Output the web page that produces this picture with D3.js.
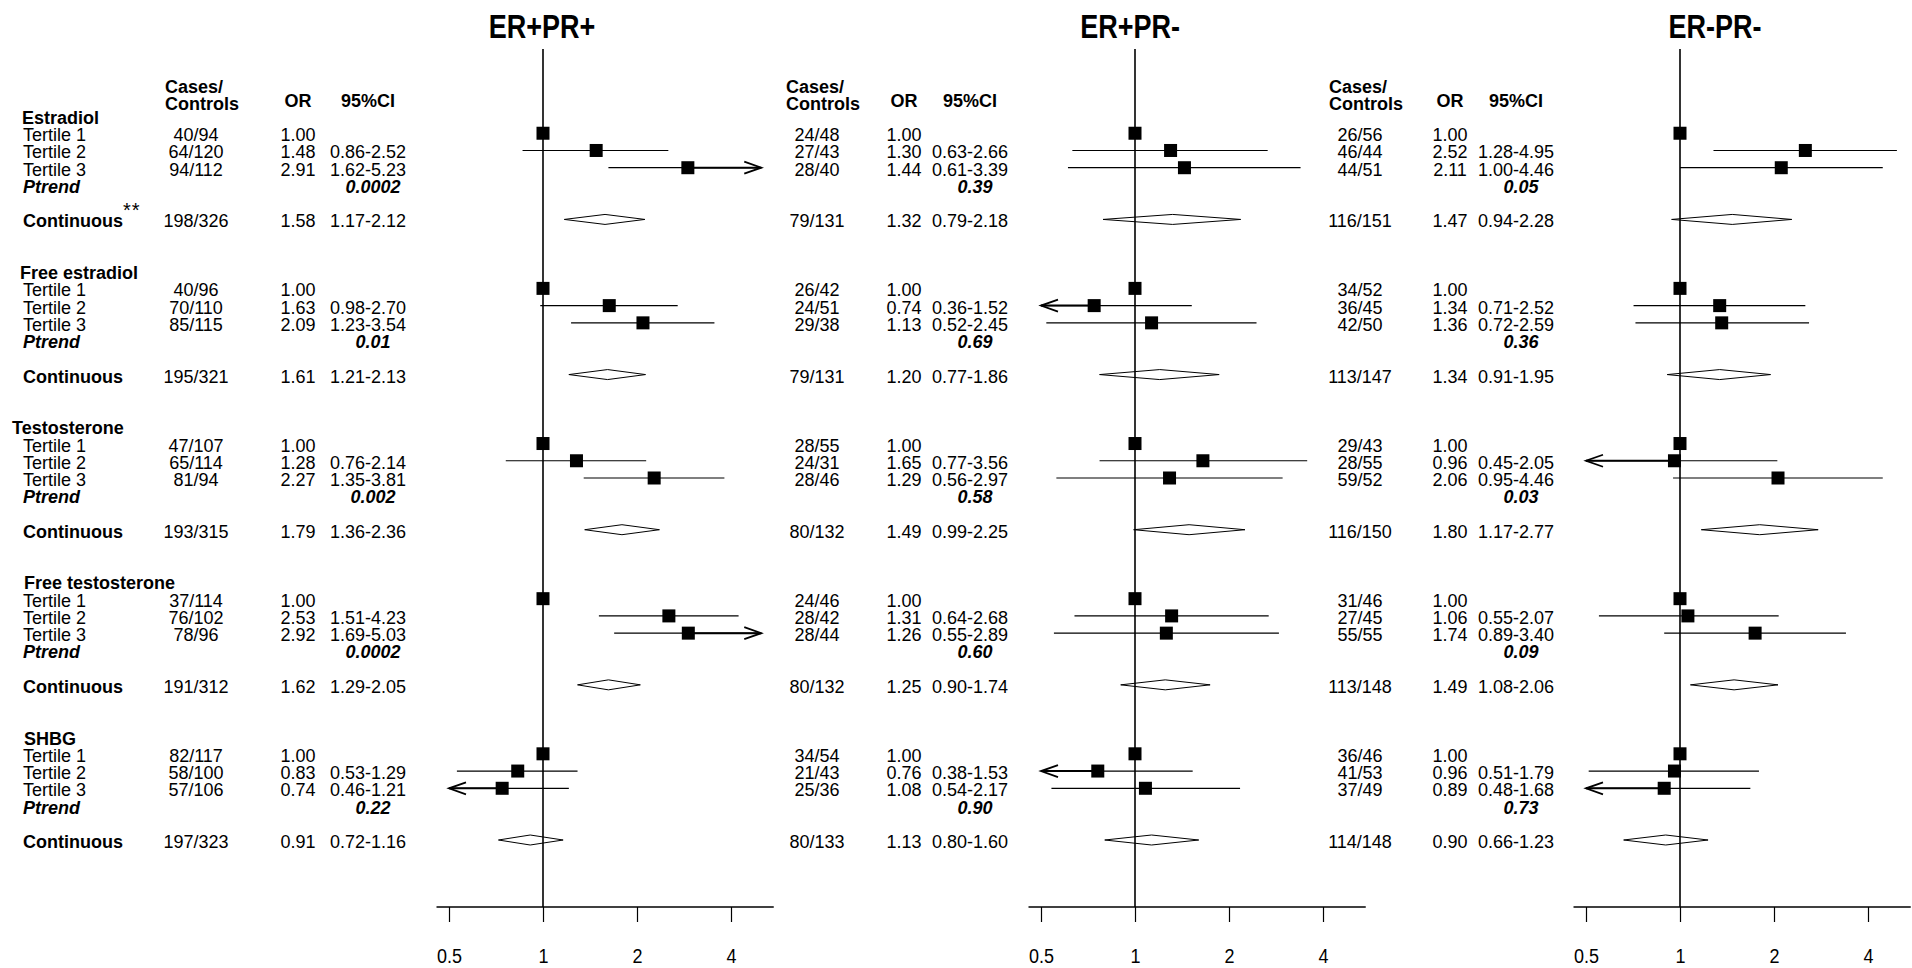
<!DOCTYPE html>
<html><head><meta charset="utf-8">
<script src="https://cdn.jsdelivr.net/npm/d3@7"></script>
<style>
body{margin:0;background:#fff}
text{font-family:"Liberation Sans",Arial,Helvetica,sans-serif;fill:#000}
</style>
</head><body>
<svg id="chart" width="1912" height="968"></svg>
<script>
// ---------------- DATA ----------------
const hormones = ["Estradiol", "Free estradiol", "Testosterone", "Free testosterone", "SHBG"];
const subtypes = ["ER+PR+", "ER+PR-", "ER-PR-"];
const tertileLabels = ["Tertile 1", "Tertile 2", "Tertile 3"];
const ptrendLabel = "Ptrend";
const continuousLabel = "Continuous";
const tickValues = [0.5, 1, 2, 4];
const tickLabels = ["0.5", "1", "2", "4"];

// each hormone: [Tertile 1, Tertile 2, Tertile 3, Continuous]
const casesERpPRp = [["40/94","64/120","94/112","198/326"],["40/96","70/110","85/115","195/321"],["47/107","65/114","81/94","193/315"],["37/114","76/102","78/96","191/312"],["82/117","58/100","57/106","197/323"]];
const orERpPRp    = [[1.00,1.48,2.91,1.58],[1.00,1.63,2.09,1.61],[1.00,1.28,2.27,1.79],[1.00,2.53,2.92,1.62],[1.00,0.83,0.74,0.91]];
const loERpPRp    = [[null,0.86,1.62,1.17],[null,0.98,1.23,1.21],[null,0.76,1.35,1.36],[null,1.51,1.69,1.29],[null,0.53,0.46,0.72]];
const hiERpPRp    = [[null,2.52,5.23,2.12],[null,2.70,3.54,2.13],[null,2.14,3.81,2.36],[null,4.23,5.03,2.05],[null,1.29,1.21,1.16]];
const ptrendERpPRp = ["0.0002","0.01","0.002","0.0002","0.22"];

const casesERpPRn = [["24/48","27/43","28/40","79/131"],["26/42","24/51","29/38","79/131"],["28/55","24/31","28/46","80/132"],["24/46","28/42","28/44","80/132"],["34/54","21/43","25/36","80/133"]];
const orERpPRn    = [[1.00,1.30,1.44,1.32],[1.00,0.74,1.13,1.20],[1.00,1.65,1.29,1.49],[1.00,1.31,1.26,1.25],[1.00,0.76,1.08,1.13]];
const loERpPRn    = [[null,0.63,0.61,0.79],[null,0.36,0.52,0.77],[null,0.77,0.56,0.99],[null,0.64,0.55,0.90],[null,0.38,0.54,0.80]];
const hiERpPRn    = [[null,2.66,3.39,2.18],[null,1.52,2.45,1.86],[null,3.56,2.97,2.25],[null,2.68,2.89,1.74],[null,1.53,2.17,1.60]];
const ptrendERpPRn = ["0.39","0.69","0.58","0.60","0.90"];

const casesERnPRn = [["26/56","46/44","44/51","116/151"],["34/52","36/45","42/50","113/147"],["29/43","28/55","59/52","116/150"],["31/46","27/45","55/55","113/148"],["36/46","41/53","37/49","114/148"]];
const orERnPRn    = [[1.00,2.52,2.11,1.47],[1.00,1.34,1.36,1.34],[1.00,0.96,2.06,1.80],[1.00,1.06,1.74,1.49],[1.00,0.96,0.89,0.90]];
const loERnPRn    = [[null,1.28,1.00,0.94],[null,0.71,0.72,0.91],[null,0.45,0.95,1.17],[null,0.55,0.89,1.08],[null,0.51,0.48,0.66]];
const hiERnPRn    = [[null,4.95,4.46,2.28],[null,2.52,2.59,1.95],[null,2.05,4.46,2.77],[null,2.07,3.40,2.06],[null,1.79,1.68,1.23]];
const ptrendERnPRn = ["0.05","0.36","0.03","0.09","0.73"];

const clipRange = [0.5, 5];

// ---------------- LAYOUT ----------------
const panels = [
  {title: subtypes[0], cases: casesERpPRp, or: orERpPRp, lo: loERpPRp, hi: hiERpPRp, p: ptrendERpPRp},
  {title: subtypes[1], cases: casesERpPRn, or: orERpPRn, lo: loERpPRn, hi: hiERpPRn, p: ptrendERpPRn},
  {title: subtypes[2], cases: casesERnPRn, or: orERnPRn, lo: loERnPRn, hi: hiERnPRn, p: ptrendERnPRn}
];
const layout = {
  titleX: [542, 1130, 1715],
  refX: [543, 1135, 1680],
  casesX: [196, 817, 1360],
  orX: [298, 904, 1450],
  ciX: [368, 970, 1516],
  headerIndent: [22, 20, 12, 24, 24],
  labelX: 23,
  pxPerDoubling: 94,
  refTop: 49,
  axisY: 907
};
const FS = 18;
const STRETCH = 1.0;
const fmt2 = d3.format(".2f");

const svg = d3.select("#chart");
const rowY = d3.scaleLinear().domain([0, 42]).range([117, 841]);

function txt(g, x, y, s, opts = {}) {
  return g.append("text")
    .attr("transform", `translate(${x},${y}) scale(1,${opts.stretch || STRETCH})`)
    .attr("font-size", opts.size || FS)
    .attr("font-weight", opts.bold ? "bold" : "normal")
    .attr("font-style", opts.italic ? "italic" : "normal")
    .attr("text-anchor", opts.anchor || "start")
    .text(s);
}
const BL = 7; // baseline offset from row centre

// left label column
const lab = svg.append("g");
hormones.forEach((h, s) => {
  const base = s * 9;
  txt(lab, layout.headerIndent[s], rowY(base) + BL, h, {bold: true});
  tertileLabels.forEach((t, i) => txt(lab, layout.labelX, rowY(base + 1 + i) + BL, t));
  txt(lab, layout.labelX, rowY(base + 4) + BL, ptrendLabel, {bold: true, italic: true});
  txt(lab, layout.labelX, rowY(base + 6) + BL, continuousLabel, {bold: true});
  if (s === 0) {
    txt(lab, 123, rowY(base + 6) - 3, "**", {size: 20}).attr("letter-spacing", 1);
  }
});

panels.forEach((P, pi) => {
  const g = svg.append("g");
  const ref = layout.refX[pi];
  const x = d3.scaleLog().base(2).domain(clipRange)
    .range([ref - layout.pxPerDoubling, ref + layout.pxPerDoubling * Math.log2(clipRange[1])]);
  const span = Math.log2(clipRange[1]) - Math.log2(clipRange[0]);
  const axLo = Math.pow(2, Math.log2(clipRange[0]) - 0.04 * span);
  const axHi = Math.pow(2, Math.log2(clipRange[1]) + 0.04 * span);

  // title
  txt(g, layout.titleX[pi], 38, P.title, {bold: true, size: 27, anchor: "middle", stretch: 1.2});
  // column headers
  const hx = layout.casesX[pi] - 31;
  txt(g, hx, 87 + 6, "Cases/", {bold: true});
  txt(g, hx, 104 + 6, "Controls", {bold: true});
  txt(g, layout.orX[pi], 101 + 6, "OR", {bold: true, anchor: "middle"});
  txt(g, layout.ciX[pi], 101 + 6, "95%CI", {bold: true, anchor: "middle"});

  // text columns
  P.cases.forEach((rows, s) => {
    const base = s * 9;
    rows.forEach((cc, k) => {
      const r = k < 3 ? base + 1 + k : base + 6;
      const y = rowY(r) + BL;
      txt(g, layout.casesX[pi], y, cc, {anchor: "middle"});
      txt(g, layout.orX[pi], y, fmt2(P.or[s][k]), {anchor: "middle"});
      if (P.lo[s][k] != null) {
        txt(g, layout.ciX[pi], y, fmt2(P.lo[s][k]) + "-" + fmt2(P.hi[s][k]), {anchor: "middle"});
      }
    });
    txt(g, layout.ciX[pi] + 5, rowY(base + 4) + BL, P.p[s], {bold: true, italic: true, anchor: "middle"});
  });

  // diamonds (continuous)
  P.cases.forEach((rows, s) => {
    const y = rowY(s * 9 + 6) - 1;
    const o = P.or[s][3], lo = P.lo[s][3], hi = P.hi[s][3];
    g.append("polygon")
      .attr("points", [[x(lo), y], [x(o), y - 5], [x(hi), y], [x(o), y + 5]].map(p => p.join(",")).join(" "))
      .attr("fill", "#fff").attr("stroke", "#000").attr("stroke-width", 1);
  });

  // reference line
  g.append("line").attr("x1", x(1)).attr("x2", x(1))
    .attr("y1", layout.refTop).attr("y2", layout.axisY)
    .attr("stroke", "#000").attr("stroke-width", 1.6);

  // CI lines, arrows, squares
  P.cases.forEach((rows, s) => {
    for (let k = 0; k < 3; k++) {
      const y = rowY(s * 9 + 1 + k) - 1;
      const o = P.or[s][k], lo = P.lo[s][k], hi = P.hi[s][k];
      if (lo != null) {
        const cl = Math.max(lo, clipRange[0]), ch = Math.min(hi, clipRange[1]);
        g.append("line").attr("x1", x(cl)).attr("x2", x(ch)).attr("y1", y).attr("y2", y)
          .attr("stroke", "#000").attr("stroke-width", 1.2);
        if (hi > clipRange[1]) {
          const xe = x(clipRange[1]);
          g.append("line").attr("x1", x(o)).attr("x2", xe).attr("y1", y).attr("y2", y)
            .attr("stroke", "#000").attr("stroke-width", 2);
          g.append("path").attr("d", `M${xe - 17},${y - 6}L${xe},${y}L${xe - 17},${y + 6}`)
            .attr("fill", "none").attr("stroke", "#000").attr("stroke-width", 1.8);
        }
        if (lo < clipRange[0]) {
          const xe = x(clipRange[0]);
          g.append("line").attr("x1", x(o)).attr("x2", xe).attr("y1", y).attr("y2", y)
            .attr("stroke", "#000").attr("stroke-width", 2);
          g.append("path").attr("d", `M${xe + 17},${y - 6}L${xe},${y}L${xe + 17},${y + 6}`)
            .attr("fill", "none").attr("stroke", "#000").attr("stroke-width", 1.8);
        }
      }
      g.append("rect").attr("x", x(o) - 6.5).attr("y", y - 6.5)
        .attr("width", 13).attr("height", 13).attr("fill", "#000");
    }
  });

  // axis
  const axis = d3.axisBottom(x).tickValues(tickValues)
    .tickFormat((d, i) => tickLabels[i]).tickSize(15).tickSizeOuter(0).tickPadding(25);
  const ag = g.append("g").attr("transform", `translate(0,${layout.axisY})`).call(axis);
  ag.select(".domain").remove();
  ag.selectAll(".tick line").attr("stroke", "#000").attr("stroke-width", 1.2);
  ag.selectAll(".tick text")
    .attr("font-size", FS).attr("font-family", '"Liberation Sans",Arial,sans-serif').attr("fill", "#000")
    .attr("transform", "scale(1,1.15)").attr("y", (15 + 25) / 1.15 + 1);
  g.append("line").attr("x1", x(axLo)).attr("x2", x(axHi))
    .attr("y1", layout.axisY).attr("y2", layout.axisY)
    .attr("stroke", "#000").attr("stroke-width", 1.4);
});
</script>
</body></html>
